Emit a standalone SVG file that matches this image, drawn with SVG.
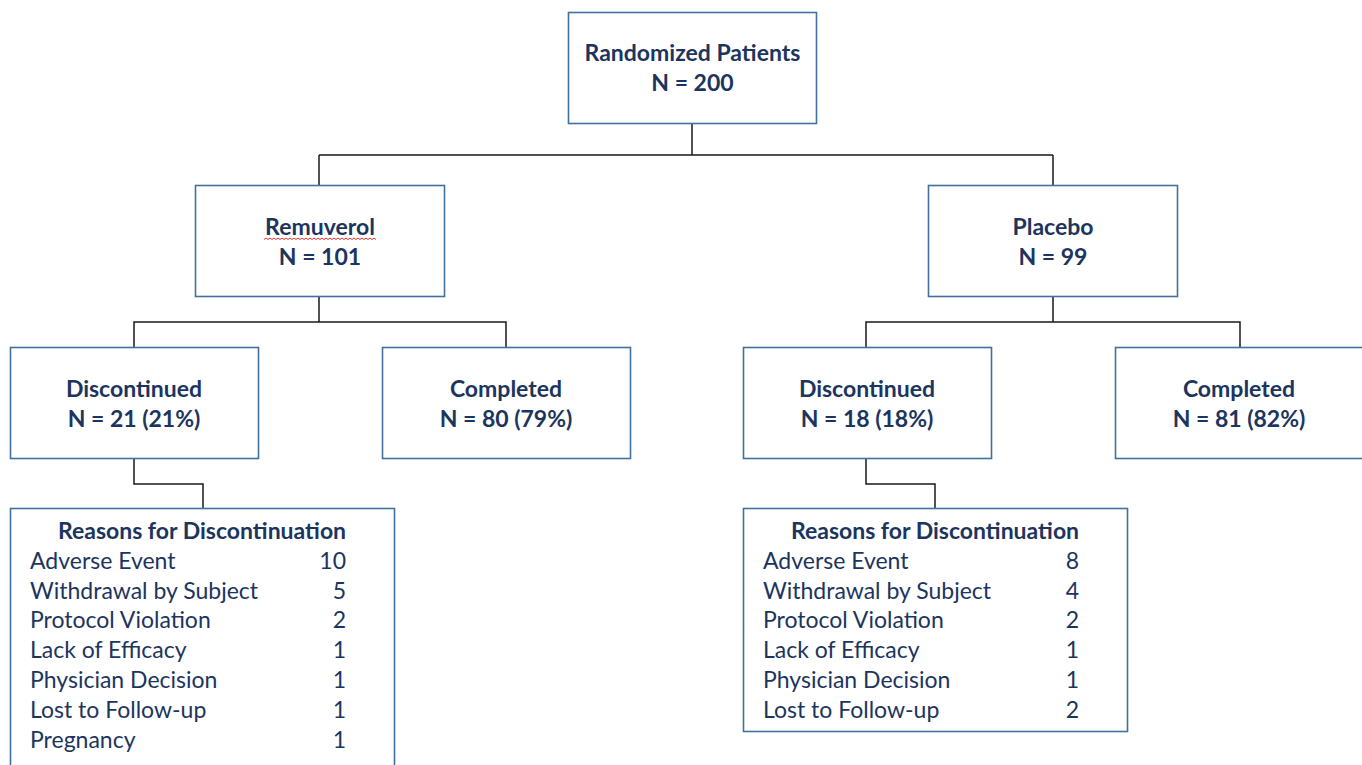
<svg xmlns="http://www.w3.org/2000/svg" width="1362" height="765" viewBox="0 0 1362 765">
<style>
.box{fill:#ffffff;stroke:#41719c;stroke-width:1.6}
.t{font-family:Lato,"Open Sans",sans-serif;fill:#1c355e;font-size:23px}
.b{font-weight:bold;text-anchor:middle}
.r{text-anchor:end}
.conn{fill:none;stroke:#1a1a1a;stroke-width:1.5}
</style>
<rect width="1362" height="765" fill="#ffffff"/>
<g id="connectors">
<path class="conn" d="M692,123 V155 M319,155 H1053 M319,155 V185 M1053,155 V185"/>
<path class="conn" d="M319,297 V322 H134 V347 M319,322 H506 V347"/>
<path class="conn" d="M1053,297 V322 H866 V347 M1053,322 H1240 V347"/>
<path class="conn" d="M134,459 V484 H203 V508"/>
<path class="conn" d="M866,459 V484 H935 V508"/>
</g>
<g id="randomized">
<rect class="box" x="568.5" y="12.5" width="248" height="111"/>
<text class="t b" x="692.5" y="61">Randomized Patients</text>
<text class="t b" x="692.5" y="91">N = 200</text>
</g>
<g id="remuverol">
<rect class="box" x="195.5" y="185.5" width="249" height="111"/>
<text class="t b" x="320" y="235">Remuverol</text>
<path d="M264,239.5 l2,-1.5 l2,1.5 l2,-1.5 l2,1.5 l2,-1.5 l2,1.5 l2,-1.5 l2,1.5 l2,-1.5 l2,1.5 l2,-1.5 l2,1.5 l2,-1.5 l2,1.5 l2,-1.5 l2,1.5 l2,-1.5 l2,1.5 l2,-1.5 l2,1.5 l2,-1.5 l2,1.5 l2,-1.5 l2,1.5 l2,-1.5 l2,1.5 l2,-1.5 l2,1.5 l2,-1.5 l2,1.5 l2,-1.5 l2,1.5 l2,-1.5 l2,1.5 l2,-1.5 l2,1.5 l2,-1.5 l2,1.5 l2,-1.5 l2,1.5 l2,-1.5 l2,1.5 l2,-1.5 l2,1.5 l2,-1.5 l2,1.5 l2,-1.5 l2,1.5 l2,-1.5 l2,1.5 l2,-1.5 l2,1.5 l2,-1.5 l2,1.5 l2,-1.5 l2,1.5" fill="none" stroke="#e03030" stroke-width="1"/>
<text class="t b" x="320" y="265">N = 101</text>
</g>
<g id="placebo">
<rect class="box" x="928.5" y="185.5" width="249" height="111"/>
<text class="t b" x="1053" y="235">Placebo</text>
<text class="t b" x="1053" y="265">N = 99</text>
</g>
<g id="rem-discontinued">
<rect class="box" x="10.5" y="347.5" width="248" height="111"/>
<text class="t b" x="134" y="397">Discontinued</text>
<text class="t b" x="134" y="427">N = 21 (21%)</text>
</g>
<g id="rem-completed">
<rect class="box" x="382.5" y="347.5" width="248" height="111"/>
<text class="t b" x="506" y="397">Completed</text>
<text class="t b" x="506" y="427">N = 80 (79%)</text>
</g>
<g id="pla-discontinued">
<rect class="box" x="743.5" y="347.5" width="248" height="111"/>
<text class="t b" x="867" y="397">Discontinued</text>
<text class="t b" x="867" y="427">N = 18 (18%)</text>
</g>
<g id="pla-completed">
<rect class="box" x="1115.5" y="347.5" width="248" height="111"/>
<text class="t b" x="1239" y="397">Completed</text>
<text class="t b" x="1239" y="427">N = 81 (82%)</text>
</g>
<g id="rem-reasons">
<rect class="box" x="10.5" y="508.5" width="384" height="270"/>
<text class="t b" x="202" y="539">Reasons for Discontinuation</text>
<text class="t" x="30" y="569">Adverse Event</text><text class="t r" x="346" y="569">10</text>
<text class="t" x="30" y="599">Withdrawal by Subject</text><text class="t r" x="346" y="599">5</text>
<text class="t" x="30" y="628">Protocol Violation</text><text class="t r" x="346" y="628">2</text>
<text class="t" x="30" y="658">Lack of Efficacy</text><text class="t r" x="346" y="658">1</text>
<text class="t" x="30" y="688">Physician Decision</text><text class="t r" x="346" y="688">1</text>
<text class="t" x="30" y="718">Lost to Follow-up</text><text class="t r" x="346" y="718">1</text>
<text class="t" x="30" y="748">Pregnancy</text><text class="t r" x="346" y="748">1</text>
</g>
<g id="pla-reasons">
<rect class="box" x="743.5" y="508.5" width="384" height="223"/>
<text class="t b" x="935" y="539">Reasons for Discontinuation</text>
<text class="t" x="763" y="569">Adverse Event</text><text class="t r" x="1079" y="569">8</text>
<text class="t" x="763" y="599">Withdrawal by Subject</text><text class="t r" x="1079" y="599">4</text>
<text class="t" x="763" y="628">Protocol Violation</text><text class="t r" x="1079" y="628">2</text>
<text class="t" x="763" y="658">Lack of Efficacy</text><text class="t r" x="1079" y="658">1</text>
<text class="t" x="763" y="688">Physician Decision</text><text class="t r" x="1079" y="688">1</text>
<text class="t" x="763" y="718">Lost to Follow-up</text><text class="t r" x="1079" y="718">2</text>
</g>
</svg>
